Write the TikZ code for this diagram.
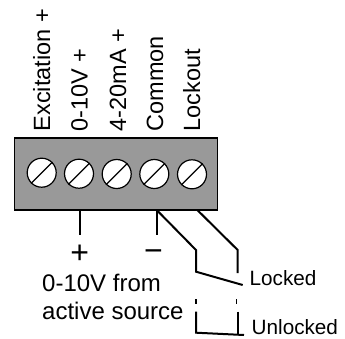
\documentclass[tikz,border=0pt]{standalone}
\usepackage{fontspec}
\setmainfont{Liberation Sans}
\tikzset{
  block/.style={draw=black,fill=black!40,line width=1.2pt,minimum width=203pt,minimum height=72pt,inner sep=0pt},
  screw/.style={circle,draw=black,fill=white,line width=1.2pt,minimum size=29pt,inner sep=0pt},
  slot/.style={line width=1.2pt,black},
  wire/.style={line width=2pt,black},
  tick/.style={line width=1.2pt,black},
  vlabel/.style={rotate=90,anchor=base west,inner sep=0pt,font=\fontsize{23.5}{26}\selectfont},
  biglabel/.style={anchor=base west,inner sep=0pt,font=\fontsize{24}{27}\selectfont},
  smalllabel/.style={anchor=base west,inner sep=0pt,font=\fontsize{20.7}{24}\selectfont},
  sign/.style={anchor=base,inner sep=0pt,font=\fontsize{32}{34}\selectfont},
}
\begin{document}
\begin{tikzpicture}[x=1pt,y=-1pt]
\useasboundingbox (0,0) rectangle (345,338);
\node[block] (box) at (116,174) {};
\node[screw] (s1) at (41.7,172.7) {};
\node[screw] (s2) at (79,173.7) {};
\node[screw] (s3) at (116.7,174) {};
\node[screw] (s4) at (154.3,174) {};
\node[screw] (s5) at (192,174.3) {};
\foreach \n in {s1,s2,s3,s4,s5}
  \draw[slot] (\n.225) -- (\n.45);
\node[vlabel] (l1) at (50,131.5) {Excitation +};
\node[vlabel] (l2) at (87.7,131.5) {0-10V +};
\node[vlabel] (l3) at (126,131.5) {4-20mA +};
\node[vlabel] (l4) at (163,131.5) {Common};
\node[vlabel] (l5) at (200,131.5) {Lockout};
\node[sign] (plus) at (79.7,263) {+};
\node[sign] (minus) at (153.5,261) {−};
\node[biglabel] (t1) at (42,291.7) {0-10V from};
\node[biglabel] (t2) at (42,319.3) {active source};
\node[smalllabel] (locked) at (249.5,285) {Locked};
\node[smalllabel] (unlocked) at (251.5,334.5) {Unlocked};
\coordinate (a0) at (79.7,210);
\coordinate (a1) at (79.7,235);
\coordinate (b0) at (156.7,210);
\coordinate (b1) at (156.7,235);
\coordinate (c1) at (196,250);
\coordinate (c2) at (196,271.7);
\coordinate (c3) at (242.7,285);
\coordinate (d0) at (197.3,210);
\coordinate (d1) at (237.7,250);
\coordinate (d2) at (237.7,273);
\coordinate (e0) at (196,299);
\coordinate (e1) at (196,304);
\coordinate (f0) at (236.7,299);
\coordinate (f1) at (236.7,304);
\coordinate (g0) at (196,311.7);
\coordinate (g1) at (196,332.7);
\coordinate (g2) at (244,335);
\coordinate (h0) at (238,311.7);
\coordinate (h1) at (238,334);
\draw[wire] (a0) -- (a1);
\draw[wire] (b0) -- (b1);
\draw[wire] (b0) -- (c1) -- (c2) -- (c3);
\draw[wire] (d0) -- (d1) -- (d2);
\draw[tick] (e0) -- (e1);
\draw[tick] (f0) -- (f1);
\draw[wire] (g0) -- (g1) -- (g2);
\draw[wire] (h0) -- (h1);
\end{tikzpicture}
\end{document}
